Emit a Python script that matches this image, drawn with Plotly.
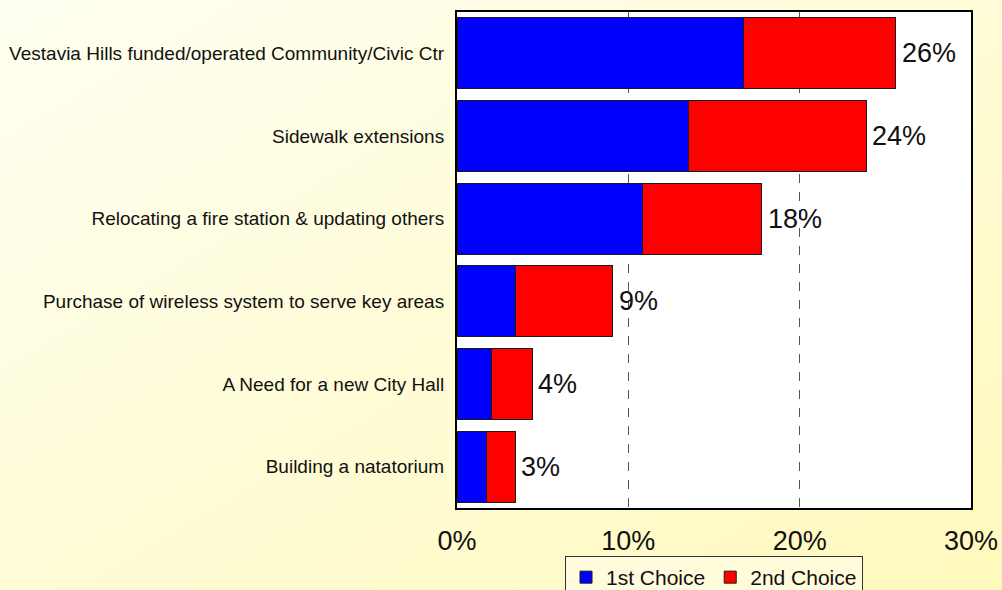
import base64
import plotly.graph_objects as go

# Survey: share of respondents choosing each project (percent)
categories = [
    "Vestavia Hills funded/operated Community/Civic Ctr",
    "Sidewalk extensions",
    "Relocating a fire station & updating others",
    "Purchase of wireless system to serve key areas",
    "A Need for a new City Hall",
    "Building a natatorium",
]
first_choice = [16.7, 13.5, 10.8, 3.4, 2.0, 1.75]
second_choice = [8.9, 10.4, 7.0, 5.7, 2.4, 1.65]
x_ticks = [0, 10, 20, 30]
x_tick_labels = ["0%", "10%", "20%", "30%"]

totals = [a + b for a, b in zip(first_choice, second_choice)]

FONT = "Arial, 'Liberation Sans', sans-serif"
W, H = 1002, 590
ML, MR, MT, MB = 457, 31, 12, 82
PW, PH = W - ML - MR, H - MT - MB

fig = go.Figure()
fig.add_trace(go.Bar(
    y=categories, x=first_choice, orientation="h", name="1st Choice",
    marker=dict(color="#0000FF", line=dict(color="#1a1a1a", width=1)),
    width=0.86,
))
fig.add_trace(go.Bar(
    y=categories, x=second_choice, orientation="h", name="2nd Choice",
    marker=dict(color="#FF0000", line=dict(color="#1a1a1a", width=1)),
    width=0.86,
))

for cat, tot in zip(categories, totals):
    fig.add_annotation(
        x=tot, y=cat, text=f"{round(tot)}%", showarrow=False,
        xanchor="left", yanchor="middle", xshift=4,
        font=dict(family=FONT, size=27, color="#111111"),
    )

# soft yellow gradient behind the whole page
svg = (
    f'<svg xmlns="http://www.w3.org/2000/svg" width="{W}" height="{H}" '
    f'viewBox="0 0 {W} {H}" preserveAspectRatio="none">'
    '<defs><linearGradient id="g" x1="0" y1="0" x2="1" y2="1">'
    '<stop offset="0" stop-color="#FFFFF2"/>'
    '<stop offset="1" stop-color="#FFF9BC"/>'
    '</linearGradient></defs>'
    f'<rect x="0" y="0" width="{W}" height="{H}" fill="url(#g)"/></svg>'
)
src = "data:image/svg+xml;base64," + base64.b64encode(svg.encode()).decode()
fig.add_layout_image(
    source=src, xref="paper", yref="paper",
    x=-ML / PW, y=1 + MT / PH, sizex=W / PW, sizey=H / PH,
    xanchor="left", yanchor="top", sizing="stretch", layer="below",
)
fig.add_shape(
    type="rect", xref="x domain", yref="y domain", x0=0, x1=1, y0=0, y1=1,
    fillcolor="white", line=dict(width=0), layer="below",
)

fig.update_layout(
    width=W, height=H,
    margin=dict(l=ML, r=MR, t=MT, b=MB, autoexpand=False),
    barmode="stack",
    paper_bgcolor="rgba(0,0,0,0)",
    plot_bgcolor="white",
    font=dict(family=FONT, color="#111111"),
    showlegend=True,
    legend=dict(
        orientation="h", x=0.5, xanchor="center", y=-0.0968, yanchor="top",
        traceorder="normal",
        font=dict(family=FONT, size=21, color="#111111"),
        bgcolor="rgba(255,255,255,0.4)", bordercolor="#333333", borderwidth=1,
        itemwidth=30, tracegroupgap=0,
    ),
    bargap=0.14,
)
fig.update_xaxes(
    range=[0, 30], tickvals=x_ticks, ticktext=x_tick_labels,
    showgrid=True, gridcolor="#555555", gridwidth=1, griddash="dash",
    zeroline=False, showline=True, linecolor="black", linewidth=2, mirror=True,
    ticks="", ticklabelstandoff=8,
    tickfont=dict(family=FONT, size=27, color="#111111"),
    fixedrange=True,
)
fig.update_yaxes(
    categoryorder="array", categoryarray=categories, autorange="reversed",
    showline=True, linecolor="black", linewidth=2, mirror=True,
    ticks="", ticklabelstandoff=7, showgrid=False,
    tickfont=dict(family=FONT, size=19, color="#111111"),
    fixedrange=True,
)

fig.write_html("out.html", config=dict(displayModeBar=False))
